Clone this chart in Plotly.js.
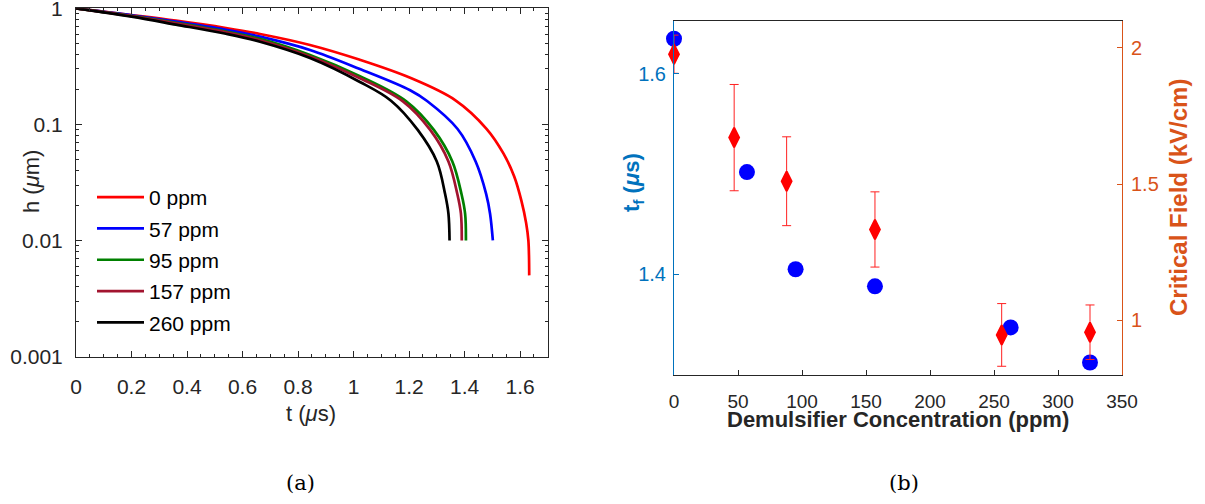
<!DOCTYPE html>
<html><head><meta charset="utf-8">
<script src="https://cdn.plot.ly/plotly-3.0.1.min.js"></script>
<style>html,body{margin:0;padding:0;background:#fff}#chart{width:1205px;height:504px}</style>
</head><body><div id="chart"></div>
<script>
// ---------- Panel (a) data: film thickness h (um) vs time t (us) ----------
const seriesNames = ['0 ppm', '57 ppm', '95 ppm', '157 ppm', '260 ppm'];
const t0ppm   = [0, 0.2, 0.36, 0.54, 0.663, 0.843, 1.023, 1.204, 1.366, 1.48, 1.54, 1.579, 1.605, 1.622, 1.630, 1.633];
const h0ppm   = [1, 0.875, 0.782, 0.676, 0.601, 0.483, 0.36, 0.252, 0.162, 0.0912, 0.0562, 0.0355, 0.0219, 0.0141, 0.01, 0.005];
const t57ppm  = [0, 0.2, 0.36, 0.54, 0.663, 0.843, 1.023, 1.204, 1.265, 1.375, 1.44, 1.478, 1.492, 1.502];
const h57ppm  = [1, 0.871, 0.767, 0.653, 0.570, 0.438, 0.30, 0.197, 0.159, 0.0912, 0.0479, 0.0251, 0.017, 0.01];
const t95ppm  = [0, 0.2, 0.36, 0.54, 0.663, 0.843, 1.023, 1.19, 1.29, 1.356, 1.389, 1.402, 1.405];
const h95ppm  = [1, 0.861, 0.75, 0.631, 0.545, 0.396, 0.26, 0.158, 0.0891, 0.0479, 0.0251, 0.017, 0.01];
const t157ppm = [0, 0.2, 0.36, 0.54, 0.663, 0.843, 1.023, 1.178, 1.277, 1.342, 1.374, 1.387, 1.390];
const h157ppm = [1, 0.857, 0.741, 0.621, 0.531, 0.385, 0.25, 0.158, 0.0891, 0.0479, 0.0251, 0.017, 0.01];
const t260ppm = [0, 0.2, 0.36, 0.54, 0.663, 0.843, 1.023, 1.135, 1.232, 1.30, 1.33, 1.342, 1.346];
const h260ppm = [1, 0.847, 0.724, 0.603, 0.515, 0.373, 0.232, 0.16, 0.0891, 0.0479, 0.0251, 0.017, 0.01];
const xTickVals_a = [0, 0.2, 0.4, 0.6, 0.8, 1, 1.2, 1.4, 1.6];
const xTickText_a = ['0', '0.2', '0.4', '0.6', '0.8', '1', '1.2', '1.4', '1.6'];
const yTickVals_a = [0.001, 0.01, 0.1, 1];
const yTickText_a = ['0.001', '0.01', '0.1', '1'];

// ---------- Panel (b) data ----------
const concTf = [0, 57, 95, 157, 263, 325];
const tfValues = [1.635, 1.502, 1.405, 1.388, 1.347, 1.312];
const concField = [0, 47, 88, 157, 256, 325];
const criticalField = [1.977, 1.671, 1.511, 1.334, 0.947, 0.957];
const criticalFieldErr = [0.07, 0.195, 0.163, 0.138, 0.115, 0.1];
const xTickVals_b = [0, 50, 100, 150, 200, 250, 300, 350];
const yLeftTickVals_b = [1.4, 1.6];
const yRightTickVals_b = [1, 1.5, 2];

// ---------- styling ----------
const seriesColors = ['#FF0000', '#0000FF', '#008000', '#A2142F', '#000000'];
const W = 1205, H = 504;
const px = v => v / W, py = v => 1 - v / H;
const dark = '#262626';
const sans = 'Liberation Sans, Arial, Helvetica, sans-serif';
const blueAx = '#0072BD', orangeAx = '#D95319';

const tSeries = [t0ppm, t57ppm, t95ppm, t157ppm, t260ppm];
const hSeries = [h0ppm, h57ppm, h95ppm, h157ppm, h260ppm];

const traces = seriesNames.map((name, i) => ({
  type: 'scatter', mode: 'lines', name: name,
  x: tSeries[i], y: hSeries[i], xaxis: 'x', yaxis: 'y',
  legendgroup: 'g' + i,
  line: {color: seriesColors[i], width: 2.7, shape: 'spline', smoothing: 1.0}
}));

traces.push({
  type: 'scatter', mode: 'markers', x: concTf, y: tfValues,
  xaxis: 'x2', yaxis: 'y2', showlegend: false, cliponaxis: false,
  marker: {color: '#0000FF', size: 16, symbol: 'circle'}
});
traces.push({
  type: 'scatter', mode: 'markers', x: concField, y: criticalField,
  xaxis: 'x2', yaxis: 'y3', showlegend: false, cliponaxis: false,
  marker: {color: '#FF0000', size: 14, symbol: 'diamond-tall', line: {color: '#FF0000', width: 2}},
  error_y: {type: 'data', array: criticalFieldErr, visible: true, color: '#FF2020', thickness: 1, width: 4.5}
});

const tickFontA = {family: sans, size: 21, color: dark};
const tickFontB = {family: sans, size: 19, color: dark};

const layout = {
  width: W, height: H, autosize: false,
  margin: {l: 0, r: 0, t: 0, b: 0, pad: 0},
  paper_bgcolor: '#fff', plot_bgcolor: 'rgba(0,0,0,0)',
  showlegend: true,
  legend: {x: px(92), y: py(177), xanchor: 'left', yanchor: 'top',
           font: {family: sans, size: 21, color: '#000'}, bgcolor: 'rgba(0,0,0,0)',
           tracegroupgap: 1, itemwidth: 47},
  xaxis: {domain: [px(76), px(547.8)], range: [0, 1.7], anchor: 'y',
          tickmode: 'array', tickvals: xTickVals_a, ticktext: xTickText_a,
          ticks: 'inside', ticklen: 6, tickcolor: dark, tickfont: tickFontA,
          minor: {ticks: 'inside', ticklen: 3, dtick: 0.05, tickcolor: dark},
          showline: true, linecolor: dark, linewidth: 1, mirror: 'ticks',
          showgrid: false, zeroline: false, ticklabelstandoff: 11, ticklabeloverflow: 'allow'},
  yaxis: {domain: [py(356.5), py(8.3)], type: 'log', range: [-3, 0], anchor: 'x',
          tickmode: 'array', tickvals: yTickVals_a, ticktext: yTickText_a,
          ticks: 'inside', ticklen: 6, tickcolor: dark, tickfont: tickFontA,
          minor: {ticks: 'inside', ticklen: 3, dtick: 'D1', tickcolor: dark},
          showline: true, linecolor: dark, linewidth: 1, mirror: 'ticks',
          showgrid: false, zeroline: false, ticklabelstandoff: 8, ticklabeloverflow: 'allow'},
  xaxis2: {domain: [px(674), px(1122)], range: [0, 350], anchor: 'y2',
           tickmode: 'array', tickvals: xTickVals_b,
           ticks: 'inside', ticklen: 5, tickcolor: dark, tickfont: tickFontB,
           showline: true, linecolor: dark, linewidth: 1.2, mirror: true,
           showgrid: false, zeroline: false, ticklabelstandoff: 9},
  yaxis2: {domain: [py(375), py(20.7)], range: [1.2995, 1.653], anchor: 'x2',
           tickmode: 'array', tickvals: yLeftTickVals_b,
           ticks: 'inside', ticklen: 5, tickcolor: blueAx,
           tickfont: {family: sans, size: 20, color: blueAx},
           showline: true, linecolor: blueAx, linewidth: 1,
           showgrid: false, zeroline: false, ticklabelstandoff: 3},
  yaxis3: {domain: [py(375), py(20.7)], range: [0.8, 2.1], anchor: 'x2',
           overlaying: 'y2', side: 'right',
           tickmode: 'array', tickvals: yRightTickVals_b,
           ticks: 'inside', ticklen: 5, tickcolor: orangeAx,
           tickfont: {family: sans, size: 20, color: orangeAx},
           showline: true, linecolor: orangeAx, linewidth: 1,
           showgrid: false, zeroline: false, ticklabelstandoff: 4},
  annotations: [
    {text: 't (<i>μ</i>s)', x: px(311), y: py(413), xref: 'paper', yref: 'paper',
     xanchor: 'center', yanchor: 'middle', showarrow: false,
     font: {family: sans, size: 22, color: dark}},
    {text: 'h (<i>μ</i>m)', x: px(31), y: py(182), xref: 'paper', yref: 'paper',
     xanchor: 'center', yanchor: 'middle', showarrow: false, textangle: -90,
     font: {family: sans, size: 22, color: dark}},
    {text: '<b>Demulsifier Concentration (ppm)</b>', x: px(898), y: py(419), xref: 'paper', yref: 'paper',
     xanchor: 'center', yanchor: 'middle', showarrow: false,
     font: {family: sans, size: 22, color: dark}},
    {text: '<b>t<sub>f</sub> (<i>μ</i>s)</b>', x: px(633), y: py(183), xref: 'paper', yref: 'paper',
     xanchor: 'center', yanchor: 'middle', showarrow: false, textangle: -90,
     font: {family: sans, size: 22, color: blueAx}},
    {text: '<b>Critical Field (kV/cm)</b>', x: px(1179), y: py(198), xref: 'paper', yref: 'paper',
     xanchor: 'center', yanchor: 'middle', showarrow: false, textangle: -90,
     font: {family: sans, size: 24, color: orangeAx}},
    {text: '(a)', x: px(300), y: py(483), xref: 'paper', yref: 'paper',
     xanchor: 'center', yanchor: 'middle', showarrow: false,
     font: {family: 'DejaVu Serif, Liberation Serif, serif', size: 21, color: '#000'}},
    {text: '(b)', x: px(904), y: py(483), xref: 'paper', yref: 'paper',
     xanchor: 'center', yanchor: 'middle', showarrow: false,
     font: {family: 'DejaVu Serif, Liberation Serif, serif', size: 21, color: '#000'}}
  ]
};

Plotly.newPlot('chart', traces, layout, {staticPlot: true, displayModeBar: false});
</script>
</body></html>
